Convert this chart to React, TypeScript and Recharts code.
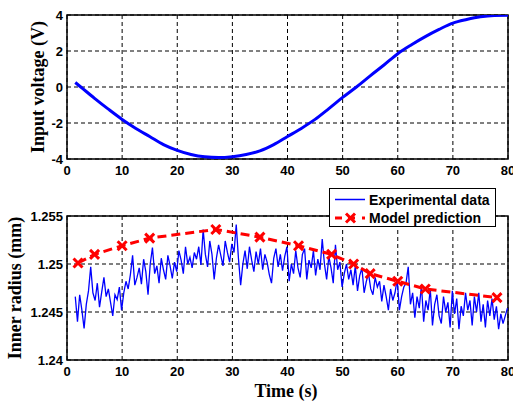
import React from 'react';
import { LineChart, Line, XAxis, YAxis, CartesianGrid, ReferenceArea } from 'recharts';

// ---------- Data ----------
const timeTicks = [0, 10, 20, 30, 40, 50, 60, 70, 80];
const voltTicks = [-4, -2, 0, 2, 4];
const radiusTicks = [1.24, 1.245, 1.25, 1.255];
const radiusTickLabels = ['1.24', '1.245', '1.25', '1.255'];

const voltTime = [1.5, 2.5, 5, 7.5, 10, 12.5, 15, 17.5, 20, 22.5, 25, 27.5, 30, 32.5, 35, 37.5, 40, 42.5, 45, 47.5, 50, 52.5, 55, 57.5, 60, 62.5, 65, 67.5, 70, 72.5, 75, 77.5, 80];
const voltValues = [0.25, 0.0, -0.63, -1.23, -1.8, -2.3, -2.75, -3.2, -3.52, -3.75, -3.88, -3.92, -3.87, -3.75, -3.55, -3.2, -2.75, -2.3, -1.8, -1.2, -0.58, 0.0, 0.62, 1.22, 1.85, 2.35, 2.8, 3.2, 3.55, 3.75, 3.9, 3.97, 3.98];

const modelTime = [2, 5, 10, 15, 27, 35, 42, 48, 52, 55, 60, 65, 78];
const modelValues = [1.2501, 1.251, 1.2519, 1.2527, 1.2536, 1.2528, 1.2519, 1.251, 1.25, 1.249, 1.2482, 1.2474, 1.2465];

// experimental samples, recorded every 0.4 s starting at 1.5 s
const expStart = 1.5;
const expStep = 0.4;
const expValues = [
  1.2466, 1.244, 1.2468, 1.2452, 1.2433,
  1.2458, 1.2472, 1.2497, 1.247, 1.2462,
  1.248, 1.2455, 1.2471, 1.2486, 1.2466,
  1.2474, 1.246, 1.2446, 1.2468, 1.2463,
  1.2476, 1.2452, 1.247, 1.2482, 1.2474,
  1.2489, 1.2509, 1.2478, 1.2486, 1.2496,
  1.2479, 1.2505, 1.2492, 1.2468, 1.25,
  1.2517, 1.249, 1.2498, 1.248, 1.2506,
  1.2494, 1.2484, 1.2509, 1.2498, 1.2485,
  1.2502, 1.2492, 1.2514, 1.2504, 1.249,
  1.2518, 1.25, 1.2507, 1.2496, 1.2512,
  1.2505, 1.2518, 1.2499, 1.2536, 1.251,
  1.2497, 1.2524, 1.251, 1.2484, 1.2506,
  1.252, 1.2509, 1.2498, 1.2524, 1.2512,
  1.2502, 1.2521, 1.2512, 1.2541, 1.2506,
  1.2478, 1.25, 1.2514, 1.2495, 1.2518,
  1.2504, 1.2492, 1.2513, 1.25, 1.2516,
  1.2494, 1.251, 1.2502, 1.2489, 1.248,
  1.2506, 1.2516, 1.2497, 1.251, 1.2493,
  1.2508, 1.2518, 1.2482, 1.25, 1.249,
  1.2514, 1.2496, 1.2486, 1.251, 1.2516,
  1.2484, 1.2504, 1.2496, 1.2514, 1.2488,
  1.2505, 1.2494, 1.2526, 1.25, 1.2484,
  1.2508, 1.2496, 1.248, 1.252, 1.2494,
  1.2502, 1.2476, 1.249, 1.25, 1.2484,
  1.2494, 1.2478, 1.2498, 1.2472, 1.2488,
  1.2496, 1.247, 1.2482, 1.249, 1.2474,
  1.2468, 1.2486, 1.2476, 1.2482, 1.2461,
  1.2478, 1.2466, 1.2452, 1.2474, 1.2462,
  1.247, 1.2484, 1.2452, 1.2466, 1.2476,
  1.248, 1.2497, 1.2458, 1.247, 1.2444,
  1.2466, 1.2454, 1.2478, 1.244, 1.2462,
  1.2452, 1.2474, 1.2436, 1.2458, 1.2468,
  1.2446, 1.2438, 1.2466, 1.245, 1.246,
  1.2434, 1.2472, 1.2448, 1.2464, 1.2432,
  1.2456, 1.2446, 1.247, 1.2452, 1.2462,
  1.2436, 1.2466, 1.245, 1.247, 1.244,
  1.2458, 1.2434, 1.2462, 1.2446, 1.2464,
  1.2442, 1.2456, 1.2432, 1.2448, 1.2438,
  1.2446, 1.2454,
];

const voltageData = voltTime.map((t, i) => ({ t, v: voltValues[i] }));
const modelData = modelTime.map((t, i) => ({ t, r: modelValues[i] }));
const expData = expValues.map((r, i) => ({ t: +(expStart + i * expStep).toFixed(2), r }));

// ---------- Styles ----------
const tickStyle = { fontFamily: '"Liberation Sans", Arial, sans-serif', fontWeight: 700, fontSize: 13, fill: '#000' };
const titleFont = '"Liberation Serif", "Times New Roman", serif';

const XMark = (props: any) => {
  const { cx, cy } = props;
  if (cx == null || cy == null) return null;
  const s = 4.5;
  return (
    <g>
      <path d={`M${cx - s},${cy - s}L${cx + s},${cy + s}M${cx - s},${cy + s}L${cx + s},${cy - s}`} stroke="#ff0000" strokeWidth={3} fill="none" />
    </g>
  );
};

export default function App() {
  return (
    <div style={{ position: 'absolute', left: 0, top: 0, width: 513, height: 401, background: '#fff', overflow: 'hidden' }}>
      {/* Top chart */}
      <div style={{ position: 'absolute', left: 0, top: 0 }}>
        <LineChart width={513} height={190} margin={{ top: 15, right: 5, bottom: 11, left: 0 }}>
          <CartesianGrid stroke="#000" strokeDasharray="4 3" strokeWidth={1} />
          <XAxis type="number" dataKey="t" domain={[0, 80]} ticks={timeTicks} allowDataOverflow axisLine={false} tickLine={false} tickSize={5} tickMargin={2} height={20} tick={tickStyle} interval={0} />
          <YAxis type="number" domain={[-4, 4]} ticks={voltTicks} allowDataOverflow axisLine={false} tickLine={false} tickSize={2} tickMargin={2} width={67} tick={tickStyle} interval={0} />
          <ReferenceArea x1={0} x2={80} y1={-4} y2={4} fill="none" fillOpacity={0} stroke="#000" strokeWidth={1.5} />
          <Line data={voltageData} dataKey="v" type="monotone" stroke="#0000ff" strokeWidth={3} dot={false} isAnimationActive={false} />
        </LineChart>
      </div>

      {/* Bottom chart */}
      <div style={{ position: 'absolute', left: 0, top: 180 }}>
        <LineChart width={513} height={221} margin={{ top: 36, right: 5, bottom: 21, left: 0 }}>
          <CartesianGrid stroke="#000" strokeDasharray="4 3" strokeWidth={1} />
          <XAxis type="number" dataKey="t" domain={[0, 80]} ticks={timeTicks} allowDataOverflow axisLine={false} tickLine={false} tickSize={5} tickMargin={2} height={20} tick={tickStyle} interval={0} />
          <YAxis type="number" domain={[1.24, 1.255]} ticks={radiusTicks} tickFormatter={(v: number) => radiusTickLabels[radiusTicks.indexOf(v)] ?? String(v)} allowDataOverflow axisLine={false} tickLine={false} tickSize={2} tickMargin={2} width={67} tick={tickStyle} interval={0} />
          <ReferenceArea x1={0} x2={80} y1={1.24} y2={1.255} fill="none" fillOpacity={0} stroke="#000" strokeWidth={1.5} />
          <Line data={expData} dataKey="r" type="linear" stroke="#0000ff" strokeWidth={1.3} dot={false} isAnimationActive={false} />
          <Line data={modelData} dataKey="r" type="linear" stroke="#ff0000" strokeWidth={3} strokeDasharray="9 5" dot={<XMark />} isAnimationActive={false} />
        </LineChart>
      </div>

      {/* Axis titles */}
      <svg width={513} height={401} style={{ position: 'absolute', left: 0, top: 0, pointerEvents: 'none' }}>
        <text x={38} y={87} transform="rotate(-90 38 87)" textAnchor="middle" dominantBaseline="central" fontFamily={titleFont} fontWeight={700} fontSize={18} fill="#000">Input voltage (V)</text>
        <text x={15} y={288} transform="rotate(-90 15 288)" textAnchor="middle" dominantBaseline="central" fontFamily={titleFont} fontWeight={700} fontSize={18} fill="#000">Inner radius (mm)</text>
        <text x={286} y={391} textAnchor="middle" dominantBaseline="central" fontFamily={titleFont} fontWeight={700} fontSize={18} fill="#000">Time (s)</text>
      </svg>

      {/* Legend */}
      <div style={{ position: 'absolute', left: 329, top: 188, width: 165, height: 37, border: '1.5px solid #000', background: '#fff' }}>
        <svg width={165} height={37} style={{ position: 'absolute', left: 0, top: 0 }}>
          <line x1={5} x2={35} y1={10.5} y2={10.5} stroke="#0000ff" strokeWidth={1.5} />
          <text x={39} y={10.5} dominantBaseline="central" fontFamily='"Liberation Sans", Arial, sans-serif' fontWeight={700} fontSize={14} fill="#000">Experimental data</text>
          <line x1={5} x2={35} y1={29} y2={29} stroke="#ff0000" strokeWidth={3} strokeDasharray="7 6 7" />
          <XMark cx={20.5} cy={29} />
          <text x={39} y={29} dominantBaseline="central" fontFamily='"Liberation Sans", Arial, sans-serif' fontWeight={700} fontSize={14} fill="#000">Model prediction</text>
        </svg>
      </div>
    </div>
  );
}
